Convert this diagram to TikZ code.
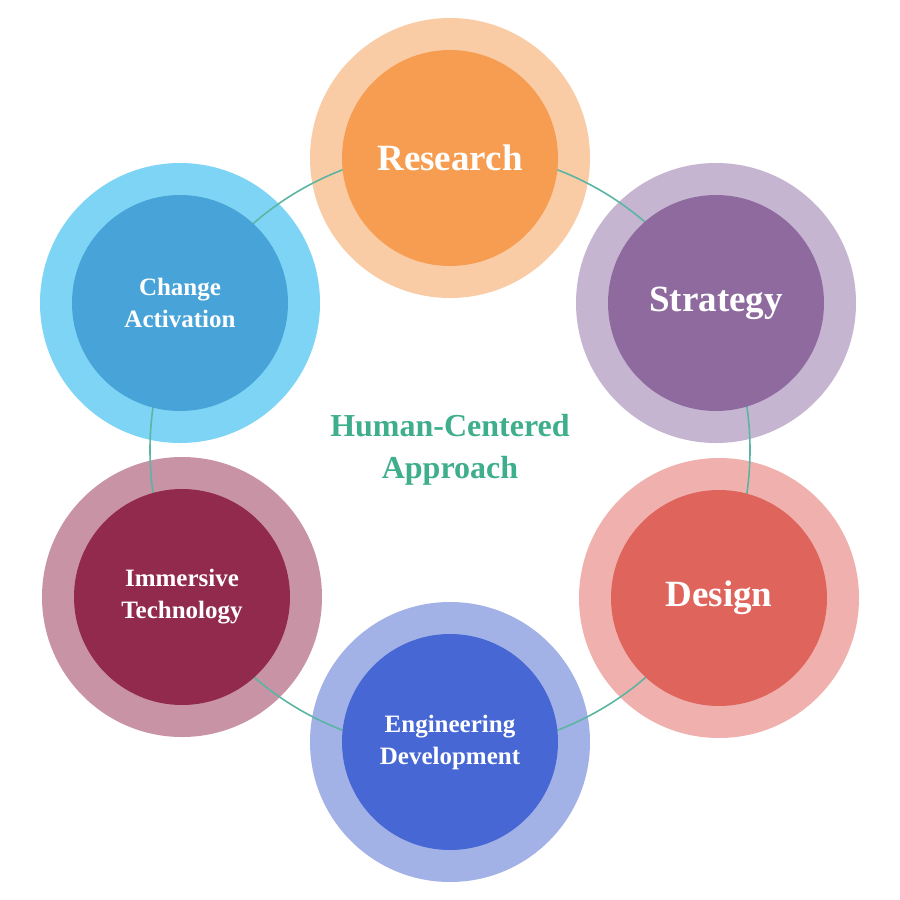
\documentclass[tikz,border=0pt]{standalone}
\usepackage{fontspec}
\setmainfont{Liberation Serif}
\begin{document}
\begin{tikzpicture}[x=1pt,y=-1pt,
 outer/.style={circle,minimum size=280pt,inner sep=0pt},
 inner/.style={circle,minimum size=216pt,inner sep=0pt,text=white,font=\bfseries,align=center},
 big/.style={font=\bfseries\fontsize{37}{40}\selectfont},
 small/.style={font=\bfseries\fontsize{25}{32}\selectfont}]
\definecolor{rO}{HTML}{F9CCA5}\definecolor{rI}{HTML}{F79D51}
\definecolor{sO}{HTML}{C5B5D1}\definecolor{sI}{HTML}{8E6A9E}
\definecolor{dO}{HTML}{EFB0AE}\definecolor{dI}{HTML}{DF645C}
\definecolor{eO}{HTML}{A2B1E6}\definecolor{eI}{HTML}{4768D4}
\definecolor{iO}{HTML}{C893A4}\definecolor{iI}{HTML}{922A4E}
\definecolor{cO}{HTML}{7DD4F5}\definecolor{cI}{HTML}{47A3D8}
\definecolor{ring}{HTML}{5BB5A2}\definecolor{ctr}{HTML}{3FAE8C}
\useasboundingbox (0,0) rectangle (900,900);
\fill[white] (0,0) rectangle (900,900);
\node[outer,fill=rO] (ro) at (450,158) {};
\node[outer,fill=sO] (so) at (716,303) {};
\node[outer,fill=dO] (do) at (719,598) {};
\node[outer,fill=eO] (eo) at (450,742) {};
\node[outer,fill=iO] (io) at (182,597) {};
\node[outer,fill=cO] (co) at (180,303) {};
\coordinate (c) at (450,450);
\draw[ring,line width=1.6pt] (c) circle[radius=300];
\node[inner,fill=rI,big] (r) at (ro) {Research};
\node[inner,fill=sI,big] (s) at (so) {Strategy};
\node[inner,fill=dI,big] (d) at (do) {Design};
\node[inner,fill=eI,small] (e) at (eo) {Engineering\\Development};
\node[inner,fill=iI,small] (i) at (io) {Immersive\\Technology};
\node[inner,fill=cI,small] (ch) at (co) {Change\\Activation};
\node[text=ctr,font=\bfseries\fontsize{32}{42}\selectfont,align=center] (t) at (c) {Human-Centered\\Approach};
\end{tikzpicture}
\end{document}
